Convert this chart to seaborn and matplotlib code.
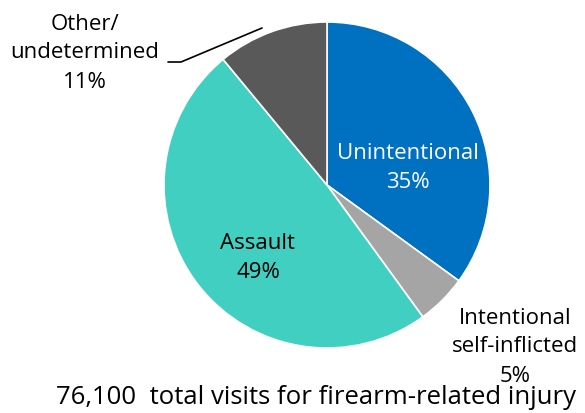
import matplotlib
matplotlib.use("Agg")
import matplotlib.pyplot as plt
import seaborn as sns

# ==========================================
# Data
# ==========================================

categories = ["Unintentional", "Intentional\nself-inflicted", "Assault", "Other/\nundetermined"]
shares = [35, 5, 49, 11]
colors = ["#0070C0", "#A5A5A5", "#40CFC0", "#595959"]
total_note = "76,100  total visits for firearm-related injury"

# ==========================================
# Figure
# ==========================================

sns.set_theme(style="white")
plt.rcParams["font.family"] = ["Open Sans", "DejaVu Sans"]

W, H = 585, 413
fig = plt.figure(figsize=(W / 100, H / 100), dpi=100)
fig.patch.set_facecolor("white")

cx, cy, r = 327, 185, 163
ax = fig.add_axes([(cx - r) / W, (H - cy - r) / H, 2 * r / W, 2 * r / H])

ax.pie(
    shares,
    colors=colors,
    startangle=90,
    counterclock=False,
    wedgeprops={"edgecolor": "white", "linewidth": 1.2},
)
ax.set_xlim(-1, 1)
ax.set_ylim(-1, 1)
ax.set_aspect("equal")
ax.axis("off")


def px(x, y):
    return x / W, 1 - y / H


def pct(i):
    return f"{shares[i]}%"


font = dict(fontsize=16, ha="center", va="center", linespacing=1.5)

# inside labels
fig.text(*px(408, 168), f"{categories[0]}\n{pct(0)}", color="white", **font)
fig.text(*px(258, 258), f"{categories[2]}\n{pct(2)}", color="black", **font)

# outside labels
fig.text(*px(85, 53), f"{categories[3]}\n{pct(3)}", color="black", **font)
fig.text(*px(515, 347), f"{categories[1]}\n{pct(1)}", color="black", **font)

# leader line for Other
fig.add_artist(plt.Line2D(
    [px(168, 0)[0], px(181, 0)[0], px(262, 0)[0]],
    [px(0, 62)[1], px(0, 62)[1], px(0, 28)[1]],
    color="black", linewidth=1.2,
))

# bottom note
fig.text(*px(316, 398), total_note, fontsize=18.5, color="black",
         ha="center", va="center")

fig.savefig("out.png", dpi=100)
